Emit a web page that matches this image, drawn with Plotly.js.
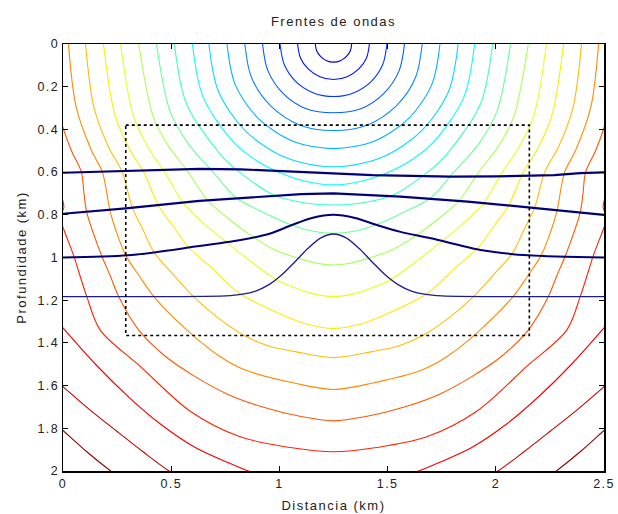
<!DOCTYPE html>
<html>
<head>
<meta charset="utf-8">
<script src="https://cdn.plot.ly/plotly-3.0.1.min.js"></script>
<style>
html,body{margin:0;padding:0;background:#fff;}
#chart{width:618px;height:514px;}
#chart .xtick text, #chart .ytick text { letter-spacing: 1.4px; }
#chart .gtitle, #chart .xtitle, #chart .ytitle { letter-spacing: 1.5px; }
</style>
</head>
<body>
<div id="chart"></div>
<script>
// ---- Data ----
const SRC_X = 1.25; // source position (km); wavefronts are symmetric about it

// Wavefronts: left half (from top/edge down to centre line), depth in km
const c1x = [1.166, 1.172, 1.191, 1.218, 1.25];
const c1y = [0, 0.032, 0.059, 0.078, 0.085];
const c2x = [1.084, 1.097, 1.133, 1.187, 1.25];
const c2y = [0, 0.064, 0.117, 0.153, 0.166];
const c3x = [1.003, 1.022, 1.075, 1.155, 1.25];
const c3y = [0, 0.095, 0.175, 0.228, 0.246];
const c4x = [0.922, 0.947, 1.018, 1.124, 1.25];
const c4y = [0, 0.126, 0.232, 0.303, 0.322];
const c5x = [0.840, 0.871, 0.960, 1.093, 1.25];
const c5y = [0, 0.157, 0.290, 0.379, 0.405];
const c6x = [0.758, 0.795, 0.902, 1.062, 1.25];
const c6y = [0, 0.188, 0.348, 0.455, 0.490];
const c7x = [0.674, 0.718, 0.843, 1.029, 1.25];
const c7y = [0, 0.221, 0.407, 0.532, 0.575];
const c8x = [0.598, 0.648, 0.789, 0.895, 0.994, 1.12, 1.25];
const c8y = [0, 0.250, 0.461, 0.547, 0.600, 0.643, 0.660];
const c9x = [0.515, 0.571, 0.730, 0.815, 0.980, 1.12, 1.25];
const c9y = [0, 0.281, 0.520, 0.600, 0.710, 0.745, 0.754];
const c10x = [0.432, 0.494, 0.580, 0.694, 0.800, 0.930, 1.050, 1.150, 1.25];
const c10y = [0, 0.313, 0.469, 0.600, 0.720, 0.790, 0.845, 0.876, 0.887];
const c11x = [0.350, 0.418, 0.487, 0.579, 0.670, 0.780, 0.880, 0.980, 1.090, 1.180, 1.25];
const c11y = [0, 0.344, 0.477, 0.600, 0.735, 0.830, 0.905, 0.965, 1.004, 1.028, 1.035];
const c12x = [0.266, 0.325, 0.398, 0.470, 0.556, 0.650, 0.757, 0.870, 0.988, 1.080, 1.150, 1.25];
const c12y = [0, 0.337, 0.492, 0.600, 0.745, 0.840, 0.930, 1.020, 1.105, 1.145, 1.168, 1.183];
const c13x = [0.187, 0.239, 0.311, 0.373, 0.440, 0.510, 0.580, 0.700, 0.811, 0.996, 1.120, 1.25];
const c13y = [0, 0.328, 0.499, 0.600, 0.755, 0.855, 0.952, 1.060, 1.165, 1.261, 1.310, 1.332];
const c14x = [0.104, 0.143, 0.211, 0.274, 0.320, 0.370, 0.420, 0.510, 0.603, 0.720, 0.842, 0.950, 1.073, 1.25];
const c14y = [0, 0.297, 0.484, 0.600, 0.765, 0.870, 0.975, 1.080, 1.183, 1.285, 1.368, 1.415, 1.441, 1.469];
const c15x = [0.025, 0.061, 0.131, 0.182, 0.218, 0.250, 0.290, 0.355, 0.420, 0.573, 0.720, 0.842, 1.073, 1.25];
const c15y = [0, 0.296, 0.498, 0.600, 0.785, 0.890, 0.990, 1.090, 1.183, 1.340, 1.460, 1.527, 1.589, 1.618];
const c16x = [-0.030, 0.000, 0.039, 0.085, 0.097, 0.110, 0.145, 0.180, 0.220, 0.257, 0.350, 0.470, 0.611, 0.760, 0.919, 1.100, 1.25];
const c16y = [0.279, 0.392, 0.500, 0.600, 0.700, 0.790, 0.900, 0.995, 1.090, 1.183, 1.340, 1.460, 1.558, 1.640, 1.699, 1.745, 1.765];
const c17x = [-0.040, -0.025, -0.012, 0.004, -0.014, 0.004, 0.049, 0.080, 0.110, 0.172, 0.357, 0.588, 0.819, 1.050, 1.25];
const c17y = [0.500, 0.600, 0.690, 0.765, 0.815, 0.870, 0.990, 1.090, 1.183, 1.340, 1.510, 1.720, 1.840, 1.890, 1.910];
const c18x = [-0.050, 0.000, 0.150, 0.300, 0.450, 0.611, 0.750, 0.857, 1.050, 1.25];
const c18y = [1.270, 1.330, 1.500, 1.650, 1.780, 1.890, 1.955, 2.000, 2.060, 2.080];
const c19x = [-0.050, 0.000, 0.120, 0.250, 0.370, 0.490, 0.700, 1.25];
const c19y = [1.560, 1.605, 1.710, 1.815, 1.910, 2.000, 2.130, 2.250];
const c20x = [-0.050, 0.000, 0.110, 0.220, 0.400, 1.25];
const c20y = [1.765, 1.810, 1.910, 2.000, 2.130, 2.400];

// Reflectors (full width)
const r1x = [0, 0.18, 0.45, 0.63, 0.82, 1.10, 1.43, 1.79, 2.00, 2.27, 2.39, 2.5];
const r1y = [0.603, 0.597, 0.590, 0.585, 0.587, 0.598, 0.614, 0.621, 0.620, 0.614, 0.605, 0.601];
const r2x = [0, 0.29, 0.63, 0.82, 1.10, 1.25, 1.56, 1.87, 2.15, 2.5];
const r2y = [0.795, 0.770, 0.735, 0.723, 0.703, 0.700, 0.715, 0.738, 0.765, 0.800];
const r3x = [0, 0.30, 0.611, 0.82, 0.95, 1.058, 1.15, 1.25, 1.35, 1.45, 1.56, 1.70, 1.93, 2.15, 2.5];
const r3y = [1.000, 0.990, 0.949, 0.918, 0.890, 0.848, 0.815, 0.800, 0.815, 0.848, 0.880, 0.910, 0.965, 0.990, 1.000];
const r4x = [0, 0.75, 0.83, 0.89, 0.95, 1.01, 1.07, 1.13, 1.19, 1.25, 1.31, 1.37, 1.43, 1.49, 1.55, 1.61, 1.67, 1.75, 2.5];
const r4y = [1.183, 1.180, 1.172, 1.157, 1.128, 1.082, 1.022, 0.959, 0.909, 0.890, 0.909, 0.959, 1.022, 1.082, 1.128, 1.157, 1.172, 1.180, 1.183];

// Dotted target box
const boxX = [0.29, 2.155, 2.155, 0.29, 0.29];
const boxY = [0.38, 0.38, 1.365, 1.365, 0.38];

// Tick labels
const xTicks = [0, 0.5, 1, 1.5, 2, 2.5];
const xTickText = ['0', '0.5', '1', '1.5', '2', '2.5'];
const yTicks = [0, 0.2, 0.4, 0.6, 0.8, 1, 1.2, 1.4, 1.6, 1.8, 2];
const yTickText = ['0', '0.2', '0.4', '0.6', '0.8', '1', '1.2', '1.4', '1.6', '1.8', '2'];

// ---- Styles ----
const contourColors = ['#0000d0', '#0010ff', '#0038ff', '#0060ff', '#008aff', '#00b3ff', '#00dbff', '#05fffa',
  '#38ffc7', '#6bff94', '#a8ff57', '#e6ff1a', '#ffeb00', '#ffbd00', '#ff8a00', '#ff5700', '#ff2400',
  '#f50000', '#c70000', '#940000'];

const halves = [[c1x,c1y],[c2x,c2y],[c3x,c3y],[c4x,c4y],[c5x,c5y],[c6x,c6y],[c7x,c7y],[c8x,c8y],
  [c9x,c9y],[c10x,c10y],[c11x,c11y],[c12x,c12y],[c13x,c13y],[c14x,c14y],[c15x,c15y],[c16x,c16y],
  [c17x,c17y],[c18x,c18y],[c19x,c19y],[c20x,c20y]];

function mirror(hx, hy) {
  const x = hx.slice(), y = hy.slice();
  for (let i = hx.length - 2; i >= 0; i--) { x.push(2 * SRC_X - hx[i]); y.push(hy[i]); }
  return [x, y];
}

const traces = [];
halves.forEach(function (h, i) {
  const m = mirror(h[0], h[1]);
  traces.push({x: m[0], y: m[1], type: 'scatter', mode: 'lines', hoverinfo: 'skip',
    line: {color: contourColors[i], width: 1.1, shape: 'spline', smoothing: 0.9}});
});
traces.push({x: r1x, y: r1y, type: 'scatter', mode: 'lines', line: {color: '#00007a', width: 2.2}});
traces.push({x: r2x, y: r2y, type: 'scatter', mode: 'lines', line: {color: '#00007a', width: 2.2}});
traces.push({x: r3x, y: r3y, type: 'scatter', mode: 'lines', line: {color: '#00007a', width: 2.0, shape: 'spline', smoothing: 0.8}});
traces.push({x: r4x, y: r4y, type: 'scatter', mode: 'lines', line: {color: '#1c1c8c', width: 1.3, shape: 'spline', smoothing: 0.8}});
traces.push({x: boxX, y: boxY, type: 'scatter', mode: 'lines', line: {color: '#000000', width: 1.6, dash: 'dot'}});

const font = 'Liberation Sans, Arial, Helvetica, sans-serif';
const layout = {
  width: 618, height: 514,
  margin: {l: 63, r: 14, t: 44, b: 43},
  paper_bgcolor: '#ffffff', plot_bgcolor: '#ffffff',
  showlegend: false,
  font: {family: font, size: 12, color: '#000'},
  title: {text: 'Frentes de ondas', font: {family: font, size: 13, color: '#222'},
    x: 0.5, xref: 'paper', y: 1 - 21 / 514, yref: 'container', yanchor: 'middle'},
  xaxis: {range: [0, 2.5], tickvals: xTicks, ticktext: xTickText, ticks: 'inside', ticklen: 5,
    tickcolor: '#000', mirror: 'ticks', showline: true, linecolor: '#000', linewidth: 1.5,
    showgrid: false, zeroline: false, tickfont: {size: 12.5, color: '#222'},
    title: {text: 'Distancia (km)', font: {size: 13, color: '#222'}, standoff: 11}},
  yaxis: {range: [2, 0], tickvals: yTicks, ticktext: yTickText, ticks: 'inside', ticklen: 5,
    tickcolor: '#000', mirror: 'ticks', showline: true, linecolor: '#000', linewidth: 1.5,
    showgrid: false, zeroline: false, tickfont: {size: 12.5, color: '#222'},
    title: {text: 'Profundidade (km)', font: {size: 13, color: '#222'}, standoff: 12}}
};

Plotly.newPlot('chart', traces, layout, {displayModeBar: false, staticPlot: true});
</script>
</body>
</html>
